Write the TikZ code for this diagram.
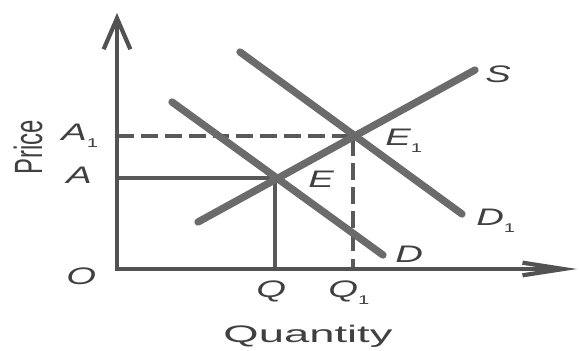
\documentclass[tikz,border=0pt]{standalone}
\usepackage{fontspec}
\setmainfont{Liberation Sans}
\usetikzlibrary{arrows.meta,positioning}
\newcommand{\subone}{\raisebox{-0.3em}{\fontsize{9}{9}\selectfont\upshape 1}}
\newcommand{\widelbl}[2][1.6]{\scalebox{#1}[1]{#2}}

\begin{document}
\begin{tikzpicture}[x=0.25mm, y=-0.25mm,
    curve/.style={draw=black!58, line width=5.2pt, line cap=round},
    axis/.style={draw=black!68, line width=2.8pt, line join=miter},
    guide/.style={draw=black!65, line width=2.3pt},
    lbl/.style={text=black!75, font=\fontsize{17}{20}\selectfont\itshape, inner sep=0pt, anchor=base west}]

\useasboundingbox (0,0) rectangle (579,350);

\coordinate (O) at (117,269);
\coordinate (ytop) at (117,13);
\coordinate (xend) at (577,269);
\coordinate (E) at (275,178);
\coordinate (E1) at (353,136);
\coordinate (A) at (117,178);
\coordinate (A1) at (117,136);
\coordinate (Q) at (275,269);
\coordinate (Q1) at (353,269);
\coordinate (s0) at (198,222);
\coordinate (s1) at (475,70);
\coordinate (d0) at (172,102);
\coordinate (d1) at (383,255);
\coordinate (dd0) at (240,52);
\coordinate (dd1) at (462,214);

\draw[guide] (A) -- (E) -- (Q);
\draw[guide, dash pattern=on 12pt off 5pt] (A1) -- (E1) -- (Q1);

\draw[curve] (s0) -- (s1);
\draw[curve] (d0) -- (d1);
\draw[curve] (dd0) -- (dd1);

\draw[axis, {Straight Barb[length=22pt,width=19pt,line width=3pt]}-{Straight Barb[length=29pt,width=9pt,line width=3pt]}] (ytop) -- (O) -- (xend);

\node[lbl] (Slbl) at (485,82) {\widelbl{S}};
\node[lbl] (E1lbl) at (385,145) {\widelbl{E\subone}};
\node[lbl] (Elbl) at (308,187) {\widelbl{E}};
\node[lbl] (D1lbl) at (476,225) {\widelbl{D\subone}};
\node[lbl] (Dlbl) at (395,262) {\widelbl{D}};
\node[lbl] (A1lbl) at (61,140) {\widelbl{A\subone}};
\node[lbl] (Albl) at (66,183) {\widelbl{A}};
\node[lbl] (Olbl) at (66,284) {\widelbl{O}};
\node[lbl] (Qlbl) at (256,297) {\widelbl{Q}};
\node[lbl] (Q1lbl) at (328,297) {\widelbl{Q\subone}};
\node[lbl, font=\fontsize{17}{20}\selectfont, anchor=base] (qty) at (308,342) {\widelbl[1.9]{Quantity}};
\node[lbl, font=\fontsize{17}{20}\selectfont, anchor=base, rotate=90] (price) at (42,147) {\scalebox{1}[1.65]{Price}};
\end{tikzpicture}
\end{document}
